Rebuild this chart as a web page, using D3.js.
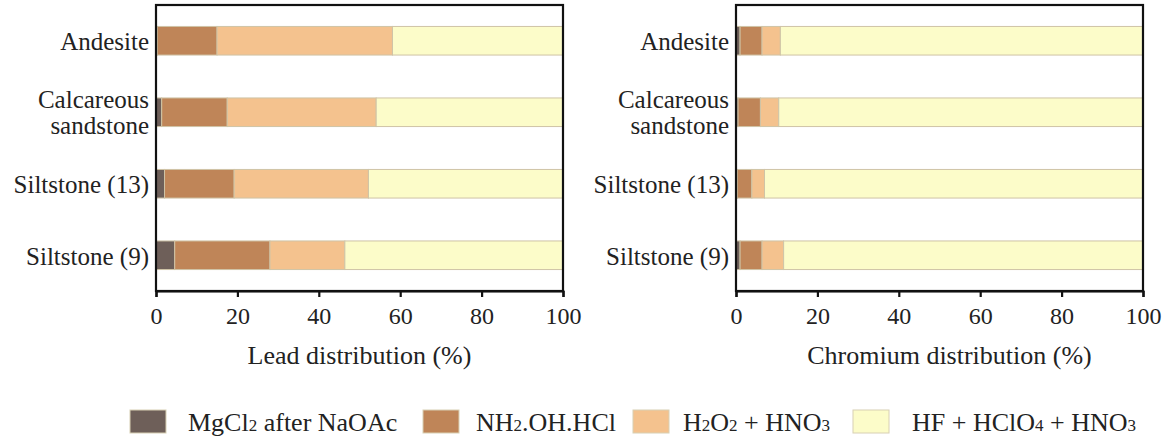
<!DOCTYPE html>
<html><head><meta charset="utf-8">
<script src="https://cdn.jsdelivr.net/npm/d3@7"></script>
<style>body{margin:0;background:#fff}svg{display:block}</style>
</head><body>
<svg id="c" width="1172" height="441"></svg>
<script>
const categories = ["Andesite", "Calcareous sandstone", "Siltstone (13)", "Siltstone (9)"];
const fractions = ["MgCl2 after NaOAc", "NH2.OH.HCl", "H2O2 + HNO3", "HF + HClO4 + HNO3"];
const leadMgCl2 = [0.3, 1.4, 2.1, 4.6];
const leadNH2OH = [14.7, 16.1, 17.1, 23.4];
const leadH2O2 = [43.1, 36.6, 33.0, 18.4];
const leadHF = [41.9, 45.9, 47.8, 53.6];
const crMgCl2 = [1.0, 0.5, 0.3, 1.0];
const crNH2OH = [5.4, 5.5, 3.6, 5.4];
const crH2O2 = [4.5, 4.5, 3.1, 5.3];
const crHF = [89.1, 89.5, 93.0, 88.3];
const xTicks = [0, 20, 40, 60, 80, 100];
const colors = ["#6e5f59", "#bf8558", "#f4c28e", "#fcfcc9"];

const font = "'Liberation Serif', 'Times New Roman', serif";
const svg = d3.select("#c");

function panel(x0, x1, title, titleShift, series) {
  const y0 = 5, y1 = 291;
  const x = d3.scaleLinear().domain([0, 100]).range([x0, x1]);
  const y = d3.scaleBand().domain(categories).range([y0, y1]).paddingInner(0.6).paddingOuter(0.3);
  const rows = categories.map((c, i) => {
    const o = {cat: c};
    fractions.forEach((f, k) => o[f] = series[k][i]);
    return o;
  });
  const stacked = d3.stack().keys(fractions)(rows);
  const g = svg.append("g");
  g.selectAll("g.s").data(stacked).join("g")
    .attr("fill", (d, i) => colors[i])
    .selectAll("rect").data(d => d).join("rect")
    .attr("x", d => x(d[0]))
    .attr("width", d => Math.max(0, x(d[1]) - x(d[0])))
    .attr("y", d => y(d.data.cat))
    .attr("height", y.bandwidth())
    .attr("stroke", "#cfc4a6")
    .attr("stroke-width", 1);
  g.append("rect").attr("x", x0).attr("y", y0).attr("width", x1 - x0).attr("height", y1 - y0)
    .attr("fill", "none").attr("stroke", "#111").attr("stroke-width", 2.2);
  const ax = g.append("g").attr("transform", `translate(0,${y1})`)
    .call(d3.axisBottom(x).tickValues(xTicks).tickSize(6).tickPadding(10).tickFormat(d3.format("d")));
  ax.select(".domain").attr("stroke", "#111").attr("stroke-width", 2.2);
  ax.selectAll(".tick line").attr("stroke", "#111").attr("stroke-width", 2.2);
  ax.selectAll(".tick text").attr("font-family", font).attr("font-size", 24).attr("fill", "#222");
  const yl = g.append("g").attr("font-family", font).attr("font-size", 25).attr("fill", "#222")
    .attr("text-anchor", "end");
  categories.forEach(c => {
    const cy = y(c) + y.bandwidth() / 2;
    if (c === "Calcareous sandstone") {
      yl.append("text").attr("x", x0 - 7).attr("y", cy - 13).attr("dy", "0.33em").text("Calcareous");
      yl.append("text").attr("x", x0 - 7).attr("y", cy + 13).attr("dy", "0.33em").text("sandstone");
    } else {
      yl.append("text").attr("x", x0 - 7).attr("y", cy + 1).attr("dy", "0.33em").text(c);
    }
  });
  g.append("text").attr("x", (x0 + x1) / 2 + titleShift).attr("y", 355).attr("dy", "0.35em")
    .attr("text-anchor", "middle").attr("font-family", font).attr("font-size", 26).attr("fill", "#222")
    .text(title);
}

panel(156, 563, "Lead distribution (%)", 0, [leadMgCl2, leadNH2OH, leadH2O2, leadHF]);
panel(736, 1143, "Chromium distribution (%)", 10, [crMgCl2, crNH2OH, crH2O2, crHF]);

const legendParts = [
  [["MgCl", 0], ["2", 1], [" after NaOAc", 0]],
  [["NH", 0], ["2", 1], [".OH.HCl", 0]],
  [["H", 0], ["2", 1], ["O", 0], ["2", 1], [" + HNO", 0], ["3", 1]],
  [["HF + HClO", 0], ["4", 1], [" + HNO", 0], ["3", 1]]
];
const legendX = [130, 423, 633, 853];
const legendTextX = [188, 476, 683, 912];
const lg = svg.append("g");
fractions.forEach((f, i) => {
  const gx = legendX[i];
  lg.append("rect").attr("x", gx).attr("y", 410).attr("width", 36).attr("height", 23)
    .attr("fill", colors[i]).attr("stroke", "#d8d0b4").attr("stroke-width", 1);
  const t = lg.append("text").attr("x", legendTextX[i]).attr("y", 422).attr("dy", "0.35em")
    .attr("font-family", font).attr("font-size", 26).attr("fill", "#222");
  legendParts[i].forEach(([s, sub]) => {
    t.append("tspan").attr("font-size", sub ? 17 : 26).text(s);
  });
});
</script>
</body></html>
